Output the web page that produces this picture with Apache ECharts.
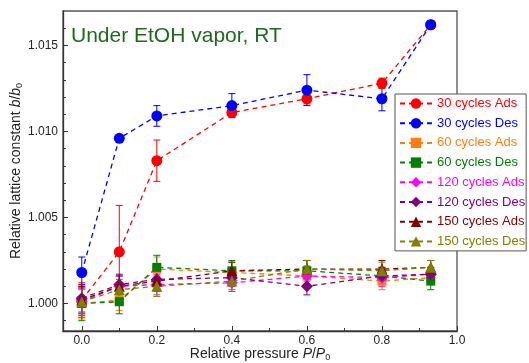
<!DOCTYPE html>
<html>
<head>
<meta charset="utf-8">
<script src="https://cdn.jsdelivr.net/npm/echarts@6/dist/echarts.min.js"></script>
<style>
  html, body { margin: 0; padding: 0; background: #fff; }
  #chart { width: 529px; height: 363px; }
</style>
</head>
<body>
<div id="chart"></div>
<script>
// relative pressure P/P0
const pressure = [0, 0.1, 0.2, 0.4, 0.6, 0.8, 0.93];

// b/b0 values and error bars
const ads30    = [1.0002, 1.0030, 1.0083, 1.0111, 1.0119, 1.0128, 1.0162];
const ads30Err = [0.0010, 0.0027, 0.0012, 0.0002, 0.0003, 0.0003, 0.0002];
const des30    = [1.0018, 1.0096, 1.0109, 1.0115, 1.0124, 1.0119, 1.0162];
const des30Err = [0.0009, 0.0001, 0.0006, 0.0007, 0.0009, 0.0007, 0.0002];
const ads60    = [1.0000, 1.0002, 1.0020, 1.0018, 1.0016, 1.0013, 1.0015];
const ads60Err = [0.0009, 0.0006, 0.0007, 0.0006, 0.0006, 0.0005, 0.0004];
const des60    = [1.0000, 1.0001, 1.0021, 1.0019, 1.0019, 1.0016, 1.0013];
const des60Err = [0.0010, 0.0007, 0.0007, 0.0006, 0.0006, 0.0005, 0.0005];
const ads120    = [1.0001, 1.0010, 1.0011, 1.0012, 1.0016, 1.0015, 1.0017];
const ads120Err = [0.0008, 0.0006, 0.0006, 0.0005, 0.0005, 0.0005, 0.0004];
const des120    = [1.0003, 1.0011, 1.0014, 1.0015, 1.0010, 1.0016, 1.0017];
const des120Err = [0.0008, 0.0006, 0.0006, 0.0005, 0.0005, 0.0005, 0.0004];
const ads150    = [1.0002, 1.0010, 1.0013, 1.0019, 1.0020, 1.0020, 1.0021];
const ads150Err = [0.0008, 0.0006, 0.0006, 0.0005, 0.0005, 0.0005, 0.0004];
const des150    = [1.0001, 1.0008, 1.0010, 1.0013, 1.0020, 1.0019, 1.0021];
const des150Err = [0.0007, 0.0006, 0.0006, 0.0005, 0.0005, 0.0005, 0.0004];

const xMajor = [0, 0.2, 0.4, 0.6, 0.8, 1.0];
const xMinor = [0.1, 0.3, 0.5, 0.7, 0.9];
const yMajor = [1.000, 1.005, 1.010, 1.015];
const yMinor = [0.999, 1.001, 1.002, 1.003, 1.004, 1.006, 1.007, 1.008, 1.009, 1.011, 1.012, 1.013, 1.014, 1.016];

const groups = [
  { name: '30 cycles Ads',  vals: ads30,  err: ads30Err,  color: '#ff0000', symbol: 'circle',   size: 11 },
  { name: '30 cycles Des',  vals: des30,  err: des30Err,  color: '#0000ff', symbol: 'circle',   size: 11 },
  { name: '60 cycles Ads',  vals: ads60,  err: ads60Err,  color: '#ff7f0e', symbol: 'rect',     size: 9 },
  { name: '60 cycles Des',  vals: des60,  err: des60Err,  color: '#008000', symbol: 'rect',     size: 9 },
  { name: '120 cycles Ads', vals: ads120, err: ads120Err, color: '#ff00ff', symbol: 'diamond',  size: 12 },
  { name: '120 cycles Des', vals: des120, err: des120Err, color: '#800080', symbol: 'diamond',  size: 12 },
  { name: '150 cycles Ads', vals: ads150, err: ads150Err, color: '#800000', symbol: 'triangle', size: 11 },
  { name: '150 cycles Des', vals: des150, err: des150Err, color: '#808000', symbol: 'triangle', size: 11 },
];

const chart = echarts.init(document.getElementById('chart'), null, { renderer: 'canvas' });

const font = 'Liberation Sans, Arial, sans-serif';
const axisColor = '#333';

function errorBars(g) {
  return {
    type: 'custom',
    name: g.name + ' err',
    z: 2,
    silent: true,
    data: pressure.map((x, i) => [x, g.vals[i], g.err[i]]),
    encode: { x: 0, y: 1 },
    renderItem: (params, api) => {
      const x = api.value(0), y = api.value(1), e = api.value(2);
      const top = api.coord([x, y + e]);
      const bot = api.coord([x, y - e]);
      const hw = 3.5;
      const style = { stroke: g.color, lineWidth: 1 };
      return {
        type: 'group',
        children: [
          { type: 'line', shape: { x1: top[0], y1: top[1], x2: bot[0], y2: bot[1] }, style },
          { type: 'line', shape: { x1: top[0] - hw, y1: top[1], x2: top[0] + hw, y2: top[1] }, style },
          { type: 'line', shape: { x1: bot[0] - hw, y1: bot[1], x2: bot[0] + hw, y2: bot[1] }, style },
        ],
      };
    },
  };
}

function lineSeries(g) {
  return {
    type: 'line',
    name: g.name,
    z: 3,
    data: pressure.map((x, i) => [x, g.vals[i]]),
    symbol: g.symbol,
    symbolSize: g.size,
    showAllSymbol: true,
    itemStyle: { color: g.color },
    lineStyle: { color: g.color, width: 1.3, type: [5, 4] },
    emphasis: { disabled: true },
  };
}

const series = [];
groups.forEach(g => { series.push(errorBars(g)); series.push(lineSeries(g)); });

const tickStyle = { color: axisColor, width: 1 };
const nameRich = {
  i: { fontSize: 14, fontStyle: 'italic', color: '#222' },
  s: { fontSize: 9, color: '#222', verticalAlign: 'bottom', padding: [7, 0, 0, 0] },
};

chart.setOption({
  animation: false,
  backgroundColor: '#fff',
  textStyle: { fontFamily: font },
  title: {
    text: 'Under EtOH vapor, RT',
    left: 66,
    top: 21,
    textStyle: { color: '#1b6b1b', fontSize: 21, fontWeight: 'normal', fontFamily: font },
  },
  grid: {
    left: 63, top: 11, right: 72, bottom: 32,
    containLabel: false,
    outerBoundsMode: 'none',
    show: true, borderColor: '#555', borderWidth: 1.3, backgroundColor: 'transparent',
  },
  legend: {
    orient: 'vertical',
    left: 395,
    top: 94,
    padding: [3, 1, 3, 4],
    backgroundColor: '#fff',
    borderColor: '#555',
    borderWidth: 1,
    itemWidth: 32,
    itemHeight: 13,
    itemGap: 6.7,
    textStyle: { fontSize: 13, fontFamily: font },
    data: groups.map(g => ({ name: g.name, textStyle: { color: g.color } })),
  },
  xAxis: [
    {
      type: 'value',
      min: -0.05,
      max: 1.0,
      position: 'bottom',
      axisLine: { show: true, onZero: false, lineStyle: { color: axisColor, width: 1.3 } },
      axisTick: { show: true, inside: true, customValues: xMajor, length: 5, lineStyle: tickStyle },
      axisLabel: {
        show: true, customValues: xMajor, fontSize: 12, color: '#222', margin: 4,
        formatter: v => v.toFixed(1),
      },
      splitLine: { show: false },
      name: 'Relative pressure {i|P}/{i|P}{s|0}',
      nameLocation: 'middle',
      nameGap: 15,
      nameMoveOverlap: false,
      nameTextStyle: { fontSize: 14, color: '#222', rich: nameRich },
    },
    {
      type: 'value',
      min: -0.05,
      max: 1.0,
      position: 'bottom',
      axisLine: { show: false, onZero: false },
      axisTick: { show: true, inside: true, customValues: xMinor, length: 3, lineStyle: tickStyle },
      axisLabel: { show: false },
      splitLine: { show: false },
    },
  ],
  yAxis: [
    {
      type: 'value',
      min: 0.9984,
      max: 1.0170,
      position: 'left',
      axisLine: { show: true, onZero: false, lineStyle: { color: axisColor, width: 1.3 } },
      axisTick: { show: true, inside: true, customValues: yMajor, length: 5, lineStyle: tickStyle },
      axisLabel: {
        show: true, customValues: yMajor, fontSize: 12, color: '#222', margin: 5,
        formatter: v => v.toFixed(3),
      },
      splitLine: { show: false },
      name: 'Relative lattice constant {i|b}/{i|b}{s|0}',
      nameLocation: 'middle',
      nameGap: 39,
      nameRotate: 90,
      nameMoveOverlap: false,
      nameTextStyle: { fontSize: 14, color: '#222', rich: nameRich },
    },
    {
      type: 'value',
      min: 0.9984,
      max: 1.0170,
      position: 'left',
      axisLine: { show: false, onZero: false },
      axisTick: { show: true, inside: true, customValues: yMinor, length: 3, lineStyle: tickStyle },
      axisLabel: { show: false },
      splitLine: { show: false },
    },
  ],
  series,
});
</script>
</body>
</html>
